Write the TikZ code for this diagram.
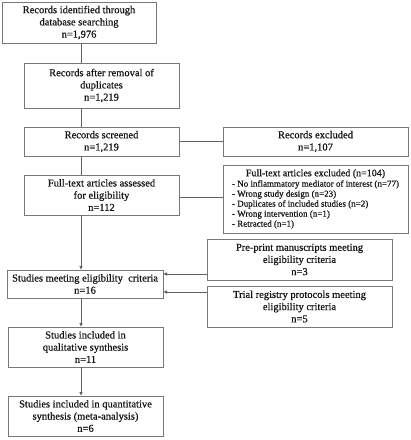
\documentclass[tikz,border=0pt]{standalone}
\usepackage{fontspec}
\setmainfont{Liberation Serif}[FakeBold=0.6]
\usetikzlibrary{arrows.meta}
\definecolor{edge}{RGB}{120,120,120}
\definecolor{ink}{RGB}{20,20,20}
\begin{document}
\begin{tikzpicture}[x=1pt,y=-1pt,
  box/.style={draw=edge,line width=0.8pt,inner sep=0pt,outer sep=0pt,align=center,text=ink,
    font=\fontsize{10.5}{12.2}\selectfont},
  conn/.style={draw=edge!80!black,line width=0.8pt},
  arr/.style={conn,-{Latex[length=4pt,width=3.6pt]}}]
\useasboundingbox (0,0) rectangle (411,440);
% main column
\node[box,minimum width=154pt,minimum height=41pt] (b1) at (79,22.5)
  {Records identified through\\database searching\\n=1,976};
\node[box,minimum width=155pt,minimum height=45pt] (b2) at (101.5,85.5)
  {Records after removal of\\duplicates\\n=1,219};
\node[box,minimum width=155pt,minimum height=29pt] (b3) at (101.5,141.5)
  {Records screened\\n=1,219};
\node[box,minimum width=155pt,minimum height=40pt] (b4) at (101.5,195)
  {Full-text articles assessed\\for eligibility\\n=112};
\node[box,minimum width=156pt,minimum height=28pt] (s1) at (85,284)
  {Studies meeting eligibility\ \ criteria\\n=16};
\node[box,minimum width=155pt,minimum height=40pt] (s2) at (85.5,347)
  {Studies included in\\qualitative synthesis\\n=11};
\node[box,minimum width=155pt,minimum height=40pt] (s3) at (85.5,416)
  {Studies included in quantitative\\synthesis (meta-analysis)\\n=6};
% right column
\node[box,minimum width=185pt,minimum height=29pt] (r1) at (315.5,141.5)
  {Records excluded\\n=1,107};
\node[box,minimum width=185pt,minimum height=68pt] (r2) at (315.5,199)
  {\begin{tabular}{@{}l@{}}
   \multicolumn{1}{@{}c@{}}{\fontsize{10}{11}\selectfont Full-text articles excluded (n=104)}\\[-1.8pt]
   \fontsize{9}{9.5}\selectfont - No inflammatory mediator of interest (n=77)\\[-2.2pt]
   \fontsize{9}{9.5}\selectfont - Wrong study design (n=23)\\[-2.2pt]
   \fontsize{9}{9.5}\selectfont - Duplicates of included studies (n=2)\\[-2.2pt]
   \fontsize{9}{9.5}\selectfont - Wrong intervention (n=1)\\[-2.2pt]
   \fontsize{9}{9.5}\selectfont - Retracted (n=1)
   \end{tabular}};
\node[box,minimum width=185pt,minimum height=41pt] (r3) at (299.5,259.5)
  {Pre-print manuscripts meeting\\eligibility criteria\\n=3};
\node[box,minimum width=185pt,minimum height=41pt] (r4) at (299.5,306.5)
  {Trial registry protocols meeting\\eligibility criteria\\n=5};
% helper coordinates
\coordinate (mx) at (81,0);
\coordinate (ya) at (0,274);
\coordinate (yb) at (0,292);
% connectors
\draw[conn] (b1.south -| mx) -- (b2.north -| mx);
\draw[conn] (b2.south -| mx) -- (b3.north -| mx);
\draw[conn] (b3.south -| mx) -- (b4.north -| mx);
\draw[arr] (b4.south -| mx) -- (s1.north -| mx);
\draw[arr] (s1.south -| mx) -- (s2.north -| mx);
\draw[arr] (s2.south -| mx) -- (s3.north -| mx);
\draw[conn] (b3.east) -- (b3.east -| r1.west);
\draw[conn] ([yshift=-2pt]b4.east) -- ([yshift=-2pt]b4.east -| r2.west);
\draw[arr] (r3.west |- ya) -- (s1.east |- ya);
\draw[arr] (r4.west |- yb) -- (s1.east |- yb);
\end{tikzpicture}
\end{document}
